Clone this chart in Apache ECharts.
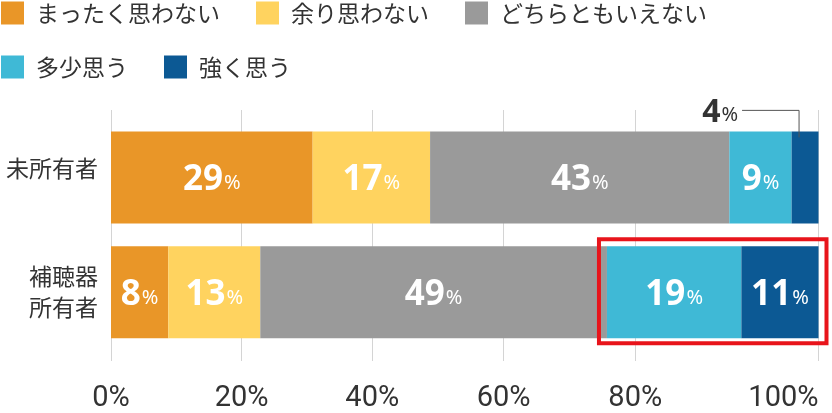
<!DOCTYPE html>
<html>
<head>
<meta charset="utf-8">
<script src="https://cdn.jsdelivr.net/npm/echarts@6/dist/echarts.min.js"></script>
<style>
  html, body { margin: 0; padding: 0; background: #fff; }
  #chart { width: 832px; height: 413px; }
</style>
</head>
<body>
<div id="chart"></div>
<script>
// ---- data ----
const categories = ['未所有者', '補聴器\n所有者'];
const seriesNames = ['まったく思わない', '余り思わない', 'どちらともいえない', '多少思う', '強く思う'];

const notAtAll = [28.5, 8.1];
const notMuch = [16.6, 13.0];
const neutral = [42.3, 49.0];
const somewhat = [8.8, 19.0];
const strongly = [3.8, 10.9];

const notAtAllLabels = ['29', '8'];
const notMuchLabels = ['17', '13'];
const neutralLabels = ['43', '49'];
const somewhatLabels = ['9', '19'];
const stronglyLabels = ['4', '11'];

const xTickValues = [0, 18.47, 36.93, 55.5, 74.1, 100];
const xTickLabels = ['0%', '20%', '40%', '60%', '80%', '100%'];

// highlighted category (red box around the two positive answers)
const highlightCategory = 1;

// ---- styles ----
const colors = ['#E99628', '#FFD35F', '#9A9A9A', '#3FB9D6', '#0C5994'];
const BAR_W = 92;
const SMALL = 5; // segments below this get an outside callout

const values = [notAtAll, notMuch, neutral, somewhat, strongly];
const labels = [notAtAllLabels, notMuchLabels, neutralLabels, somewhatLabels, stronglyLabels];

function cumStart(si, di) {
  let s = 0;
  for (let k = 0; k < si; k++) s += values[k][di];
  return s;
}

const labelRich = {
  n: { fontSize: 35, fontWeight: 'bold', color: '#fff', fontFamily: 'Noto Sans', verticalAlign: 'bottom', lineHeight: 40 },
  p: { fontSize: 20, color: '#fff', fontFamily: 'Noto Sans', verticalAlign: 'bottom', lineHeight: 40, padding: [0, 0, 4, 1] }
};

const barSeries = seriesNames.map((name, si) => ({
  name: name,
  type: 'bar',
  stack: 'total',
  xAxisIndex: 0,
  yAxisIndex: 0,
  barWidth: BAR_W,
  itemStyle: { color: colors[si] },
  label: {
    show: true,
    position: 'inside',
    formatter: p => values[si][p.dataIndex] < SMALL ? '' : '{n|' + labels[si][p.dataIndex] + '}{p|%}',
    rich: labelRich
  },
  emphasis: { disabled: true },
  data: values[si]
}));

// callouts for small segments
const calloutData = [];
values.forEach((arr, si) => arr.forEach((v, di) => {
  if (v < SMALL) calloutData.push([cumStart(si, di) + v / 2, di, labels[si][di]]);
}));

const calloutSeries = {
  type: 'custom',
  xAxisIndex: 0, yAxisIndex: 0,
  z: 10,
  silent: true,
  data: calloutData,
  renderItem: (params, api) => {
    const c = api.coord([api.value(0), api.value(1)]);
    const top = c[1] - BAR_W / 2;
    const lx = c[0] - 6;
    const ly = top - 21;
    const txt = calloutData[params.dataIndex][2];
    return {
      type: 'group',
      children: [
        { type: 'polyline', shape: { points: [[lx, top + 6], [lx, ly], [lx - 57, ly]] },
          style: { stroke: '#555', lineWidth: 1, fill: null } },
        { type: 'text', x: lx - 61, y: ly + 1,
          style: { text: '{n|' + txt + '}{p|%}', align: 'right', verticalAlign: 'middle',
            rich: {
              n: { fontSize: 32, fontWeight: 'bold', fill: '#333', fontFamily: 'Noto Sans', verticalAlign: 'bottom', lineHeight: 36 },
              p: { fontSize: 20, fill: '#333', fontFamily: 'Noto Sans', verticalAlign: 'bottom', lineHeight: 36, padding: [0, 0, 4, 1] }
            } } }
      ]
    };
  }
};

const boxSeries = {
  type: 'custom',
  xAxisIndex: 0, yAxisIndex: 0,
  z: 11,
  silent: true,
  data: [[cumStart(3, highlightCategory), 100, highlightCategory]],
  renderItem: (params, api) => {
    const a = api.coord([api.value(0), api.value(2)]);
    const b = api.coord([api.value(1), api.value(2)]);
    return {
      type: 'rect',
      shape: { x: a[0] - 8, y: a[1] - 53, width: b[0] - a[0] + 16, height: 104 },
      style: { fill: null, stroke: '#E8141B', lineWidth: 4 }
    };
  }
};

const chart = echarts.init(document.getElementById('chart'), null, { renderer: 'canvas' });
chart.setOption({
  animation: false,
  backgroundColor: '#fff',
  legend: {
    data: seriesNames,
    top: 1, left: 1, padding: 0,
    width: 740,
    icon: 'rect',
    itemWidth: 23, itemHeight: 23, itemGap: 30,
    selectedMode: false,
    textStyle: { fontSize: 23, color: '#333', fontFamily: 'Noto Sans CJK JP', lineHeight: 24, padding: [0, 6, 0, 7] }
  },
  grid: [
    { left: 111, right: 13.5, top: 120, bottom: 63.5 },
    { left: 111, right: 13.5, top: 110, bottom: 52 }
  ],
  xAxis: [
    { type: 'value', gridIndex: 0, min: 0, max: 100, show: false },
    {
      type: 'value', gridIndex: 1, min: 0, max: 100,
      axisLine: { show: false },
      splitLine: { show: false },
      axisTick: { show: true, inside: true, length: 251, customValues: xTickValues, lineStyle: { color: '#d4d4d4', width: 1 } },
      axisLabel: {
        customValues: xTickValues,
        formatter: v => { const i = xTickValues.indexOf(v); return i >= 0 ? xTickLabels[i] : ''; },
        margin: 23, fontSize: 29, lineHeight: 29, color: '#333', fontFamily: 'Roboto',
        alignMaxLabel: 'right'
      }
    }
  ],
  yAxis: [
    {
      type: 'category', gridIndex: 0, inverse: true,
      data: categories,
      axisLine: { show: false }, axisTick: { show: false }, splitLine: { show: false },
      axisLabel: {
        fontSize: 23, lineHeight: 31, color: '#333', fontFamily: 'Noto Sans CJK JP', margin: 13,
        formatter: (v, i) => i === 0 ? '{up|' + v + '}' : v,
        rich: { up: { fontSize: 23, lineHeight: 31, color: '#333', fontFamily: 'Noto Sans CJK JP', padding: [0, 0, 19, 0] } }
      }
    },
    { type: 'value', gridIndex: 1, show: false }
  ],
  series: barSeries.concat([calloutSeries, boxSeries])
});
</script>
</body>
</html>
